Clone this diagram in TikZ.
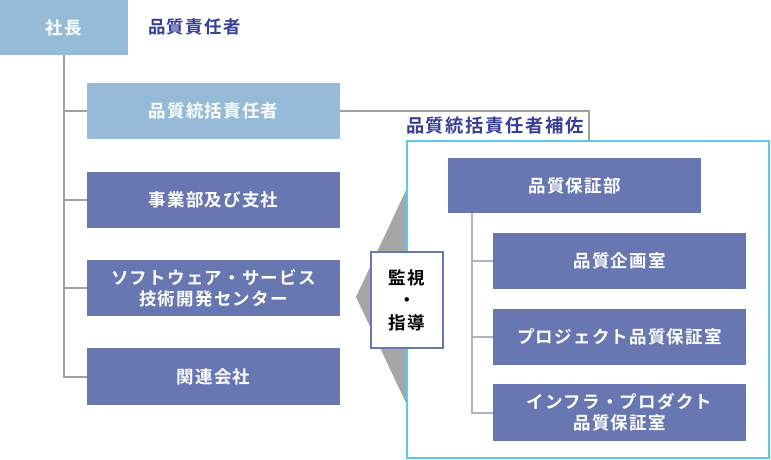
\documentclass[tikz,border=0pt]{standalone}
\usepackage{fontspec}
\setmainfont{Noto Sans CJK JP}[BoldFont={* Bold}]
\newfontfamily\jpb{Noto Sans CJK JP Bold}[LetterSpace=7]
\newfontfamily\jpc{Noto Sans CJK JP Bold}[LetterSpace=9]
\definecolor{lightbox}{HTML}{95BBD8}
\definecolor{darkbox}{HTML}{6876B2}
\definecolor{navytxt}{HTML}{363E98}
\definecolor{framecyan}{HTML}{5BC8EE}
\definecolor{linegray}{HTML}{A0A0A0}
\definecolor{innergray}{HTML}{B4B4B4}
\definecolor{arrowgray}{HTML}{A6A6A6}
\begin{document}
\begin{tikzpicture}[x=1pt,y=-1pt,
  lbl/.style={font=\jpb\fontsize{17.5}{21}\selectfont, align=center, inner sep=0pt},
  lightnode/.style={lbl, fill=lightbox, text=white},
  darknode/.style={lbl, fill=darkbox, text=white, minimum width=253pt},
  headtxt/.style={lbl, text=navytxt},
  trunk/.style={draw=linegray, line width=2pt},
  innerline/.style={draw=innergray, line width=2pt},
]
\useasboundingbox (0,0) rectangle (771,460);
% gray arrow shape
\fill[arrowgray] (356,297) -- (407,188) -- (407,405) -- cycle;
% nodes
\node[lightnode, minimum width=128pt, minimum height=55pt] (pres) at (64,27.5) {社長};
\node[headtxt, anchor=west] (qrt) at (148,27) {品質責任者};
\node[lightnode, minimum width=253pt, minimum height=56pt] (qgm) at (213.5,111) {品質統括責任者};
\node[darknode, minimum height=56pt] (biz) at (213.5,200) {事業部及び支社};
\node[darknode, minimum height=56pt] (soft) at (213.5,288) {ソフトウェア・サービス\\技術開発センター};
\node[darknode, minimum height=57pt] (rel) at (213.5,376.5) {関連会社};
\node[headtxt, font=\jpc\fontsize{18.3}{21}\selectfont] (asst) at (495,126) {品質統括責任者補佐};
\node[draw=framecyan, line width=2pt, fill=white, minimum width=362pt, minimum height=317pt, inner sep=0pt] (frame) at (588,299.5) {};
\node[darknode, minimum height=55pt] (qad) at (574.5,185.5) {品質保証部};
\node[darknode, minimum height=56pt] (plan) at (619.5,261) {品質企画室};
\node[darknode, minimum height=56pt] (proj) at (619.5,337) {プロジェクト品質保証室};
\node[darknode, minimum height=57pt] (infra) at (619.5,412.5) {インフラ・プロダクト\\品質保証室};
\node[lbl, draw=darkbox, line width=1.5pt, fill=white, text=black, minimum width=72pt, minimum height=96pt, font=\jpb\fontsize{17.5}{22.5}\selectfont] (kanshi) at (407,300) {監視\\・\\指導};
% connectors
\coordinate (c1) at (589,141);
\coordinate (t2) at (472,213);
\draw[trunk] (pres.south) |- (rel.west);
\draw[trunk] (pres.south |- qgm.west) -- (qgm.west);
\draw[trunk] (pres.south |- biz.west) -- (biz.west);
\draw[trunk] (pres.south |- soft.west) -- (soft.west);
\draw[trunk] (qgm.east) -| (c1);
\draw[innerline] (t2) |- (infra.west);
\draw[innerline] (t2 |- plan.west) -- (plan.west);
\draw[innerline] (t2 |- proj.west) -- (proj.west);
\end{tikzpicture}
\end{document}
